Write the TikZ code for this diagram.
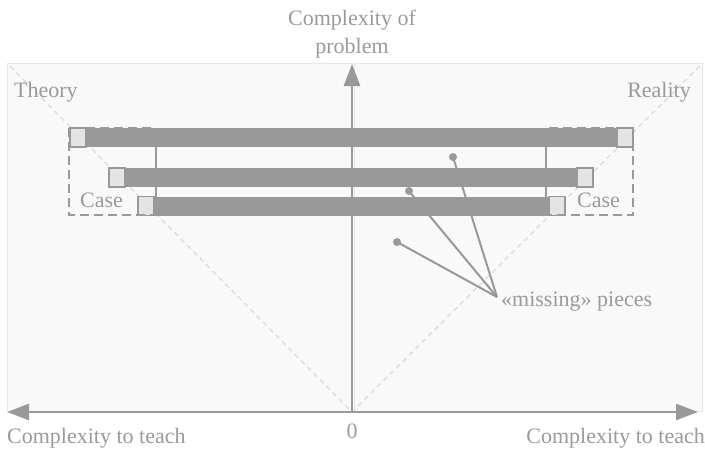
\documentclass[tikz,border=0pt]{standalone}
\usepackage{fontspec}
\setmainfont{Liberation Serif}
\usepackage{tikz}
\usetikzlibrary{arrows.meta}
\definecolor{axisgray}{HTML}{999999}
\definecolor{textgray}{HTML}{9A9A9A}
\definecolor{panelfill}{HTML}{F9F9F9}
\definecolor{paneledge}{HTML}{E6E6E6}
\definecolor{capfill}{HTML}{E4E4E4}
\definecolor{diaggray}{HTML}{DDDDDD}
\tikzset{
  label text/.style={text=textgray,inner sep=0pt,font=\fontsize{22}{28}\selectfont},
  axis line/.style={draw=axisgray,line width=2.6pt},
  axis tip/.style={-{Triangle[length=22pt,width=16pt]}},
  panel/.style={fill=panelfill,draw=paneledge,line width=1pt},
  diag line/.style={draw=diaggray,line width=1.4pt,dash pattern=on 5pt off 4pt},
  case box/.style={draw=axisgray,line width=1.3pt,dash pattern=on 9pt off 5pt},
  pointer/.style={draw=axisgray,line width=2pt},
  piece dot/.style={circle,fill=axisgray,inner sep=0pt,minimum size=8pt},
}

\begin{document}
\begin{tikzpicture}[x=1pt,y=-1pt]
    \useasboundingbox (0,0) rectangle (705,450);
    % panels
    \path[panel] (7,63) rectangle (352,411);
    \path[panel] (354,63) rectangle (702,411);
    % axis points
    \coordinate (o) at (352,412);
    \coordinate (xl) at (7,412);
    \coordinate (xr) at (698,412);
    \coordinate (yt) at (352,64);
    \coordinate (cl) at (10,66);
    \coordinate (cr) at (700,66);
    % diagonals
    \draw[diag line] (cl) -- (o) -- (cr);
    % vertical axis
    \draw[axis line,axis tip] (o) -- (yt);
    % missing pieces
    \coordinate (mp) at (497,297);
    \node[piece dot] (d1) at (453,157) {};
    \node[piece dot] (d2) at (409,191) {};
    \node[piece dot] (d3) at (397,242) {};
    \foreach \d in {d1,d2,d3}
        \draw[pointer] (\d.center) -- (mp);
    \node[label text,anchor=base west] (missing) at (501,306) {«missing» pieces};
    % bars
    \foreach \l/\r/\y in {70/633/128, 109/593/168, 138/565/196.5}{
        \fill[axisgray] (\l,\y) rectangle (\r,\y+19);
        \filldraw[fill=capfill,draw=axisgray,line width=1.5pt] (\l,\y) rectangle (\l+16,\y+19);
        \filldraw[fill=capfill,draw=axisgray,line width=1.5pt] (\r-16,\y) rectangle (\r,\y+19);
    }
    % case boxes
    \draw[case box] (69,128) rectangle (156,215);
    \draw[case box] (546,128) rectangle (633,215);
    \draw[axisgray,line width=1.3pt] (156,147) -- (156,196.5);
    \draw[axisgray,line width=1.3pt] (546,147) -- (546,196.5);
    % horizontal axis
    \draw[axis line,{Triangle[length=22pt,width=16pt]}-{Triangle[length=22pt,width=16pt]}] (xl) -- (xr);
    % labels
    \node[label text,anchor=base west] (theory) at (14,97) {Theory};
    \node[label text,anchor=base east] (reality) at (691,97) {Reality};
    \node[label text,anchor=base west] (casel) at (80,207) {Case};
    \node[label text,anchor=base west] (caser) at (577,207) {Case};
    \node[label text,anchor=base] (ytitle) at (352,25) {Complexity of};
    \node[label text,anchor=base] (ytitle2) at (352,53) {problem};
    \node[label text,anchor=base west] (xtitlel) at (7,443) {Complexity to teach};
    \node[label text,anchor=base east] (xtitler) at (705,443) {Complexity to teach};
    \node[label text,anchor=base] (zero) at (352,438) {0};
\end{tikzpicture}
\end{document}
